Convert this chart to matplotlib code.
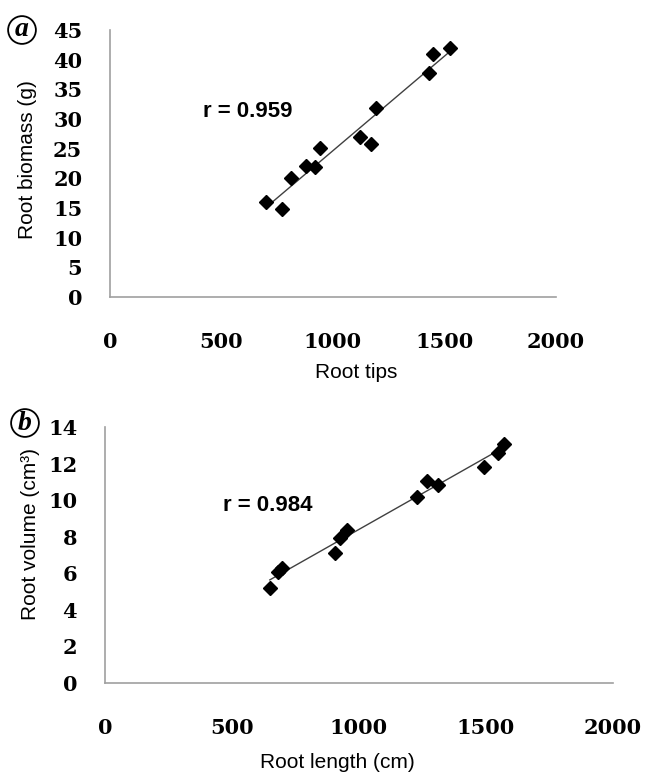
import numpy as np
import matplotlib
matplotlib.use("Agg")
import matplotlib.pyplot as plt

# panel a: root tips vs root biomass
tips = [700, 770, 812, 879, 921, 942, 1121, 1169, 1191, 1432, 1450, 1525]
biomass = [16.0, 14.8, 20.0, 22.0, 21.9, 25.1, 26.9, 25.8, 31.9, 37.8, 41.0, 41.9]

# panel b: root length vs root volume
length = [649, 683, 696, 906, 925, 951, 1227, 1267, 1310, 1494, 1546, 1571]
volume = [5.18, 6.09, 6.27, 7.09, 7.91, 8.37, 10.19, 11.06, 10.83, 11.83, 12.56, 13.07]

xticks = [0, 500, 1000, 1500, 2000]
yticks_a = list(range(0, 46, 5))
yticks_b = list(range(0, 15, 2))

W, H = 645, 774
fig = plt.figure(figsize=(W / 100, H / 100), dpi=100)

tick_font = dict(family="DejaVu Serif", weight="bold", size=15)
lab_font = dict(family="Liberation Sans", size=15)
r_font = dict(family="Liberation Sans", weight="bold", size=16)


def panel(rect, x, y, yt, ylim, xlab, ylab, rtxt, rpos, xlab_pos, ylab_pos):
    ax = fig.add_axes(rect)
    ax.plot(x, y, "D", color="black", ms=7.5, zorder=3)
    # linear trend line over data range
    k, b = np.polyfit(x, y, 1)
    xs = np.array([min(x), max(x)])
    ax.plot(xs, k * xs + b, color="#404040", lw=1, zorder=2)
    ax.set_xlim(0, 2000)
    ax.set_ylim(*ylim)
    ax.set_xticks(xticks)
    ax.set_yticks(yt)
    ax.set_xticklabels([str(v) for v in xticks], fontdict=tick_font)
    ax.set_yticklabels([str(v) for v in yt], fontdict=tick_font)
    ax.tick_params(axis="x", length=0, pad=25)
    ax.tick_params(axis="y", length=0, pad=20)
    for s in ["top", "right"]:
        ax.spines[s].set_visible(False)
    for s in ["left", "bottom"]:
        ax.spines[s].set_color("#a0a0a0")
        ax.spines[s].set_linewidth(1.2)
    ax.set_xlabel(xlab, fontdict=lab_font, va="center")
    ax.xaxis.set_label_coords(*xlab_pos)
    ax.set_ylabel(ylab, fontdict=lab_font, va="center", ha="center")
    ax.yaxis.set_label_coords(*ylab_pos)
    ax.text(rpos[0], rpos[1], rtxt, fontdict=r_font, ha="center", va="center")
    return ax


ax1 = panel([110 / W, 1 - 297 / H, 446 / W, 267 / H], tips, biomass, yticks_a, (0, 45),
            "Root tips", "Root biomass (g)", "r = 0.959", (619, 31.2),
            (0.552, -0.281), (-0.184, 0.513))
ax2 = panel([105 / W, 1 - 683 / H, 508 / W, 256 / H], length, volume, yticks_b, (0, 14),
            "Root length (cm)", "Root volume (cm³)", "r = 0.984", (642, 9.68),
            (0.457, -0.3125), (-0.146, 0.582))

for lab, (px, py) in [("a", (22, 30)), ("b", (25, 423))]:
    fig.text(px / W, 1 - py / H, lab, family="Liberation Serif", weight="bold",
             style="italic", size=20, ha="center", va="center",
             bbox=dict(boxstyle="circle,pad=0.05", fc="white", ec="black", lw=1.3))

fig.savefig("out.png", dpi=100)
